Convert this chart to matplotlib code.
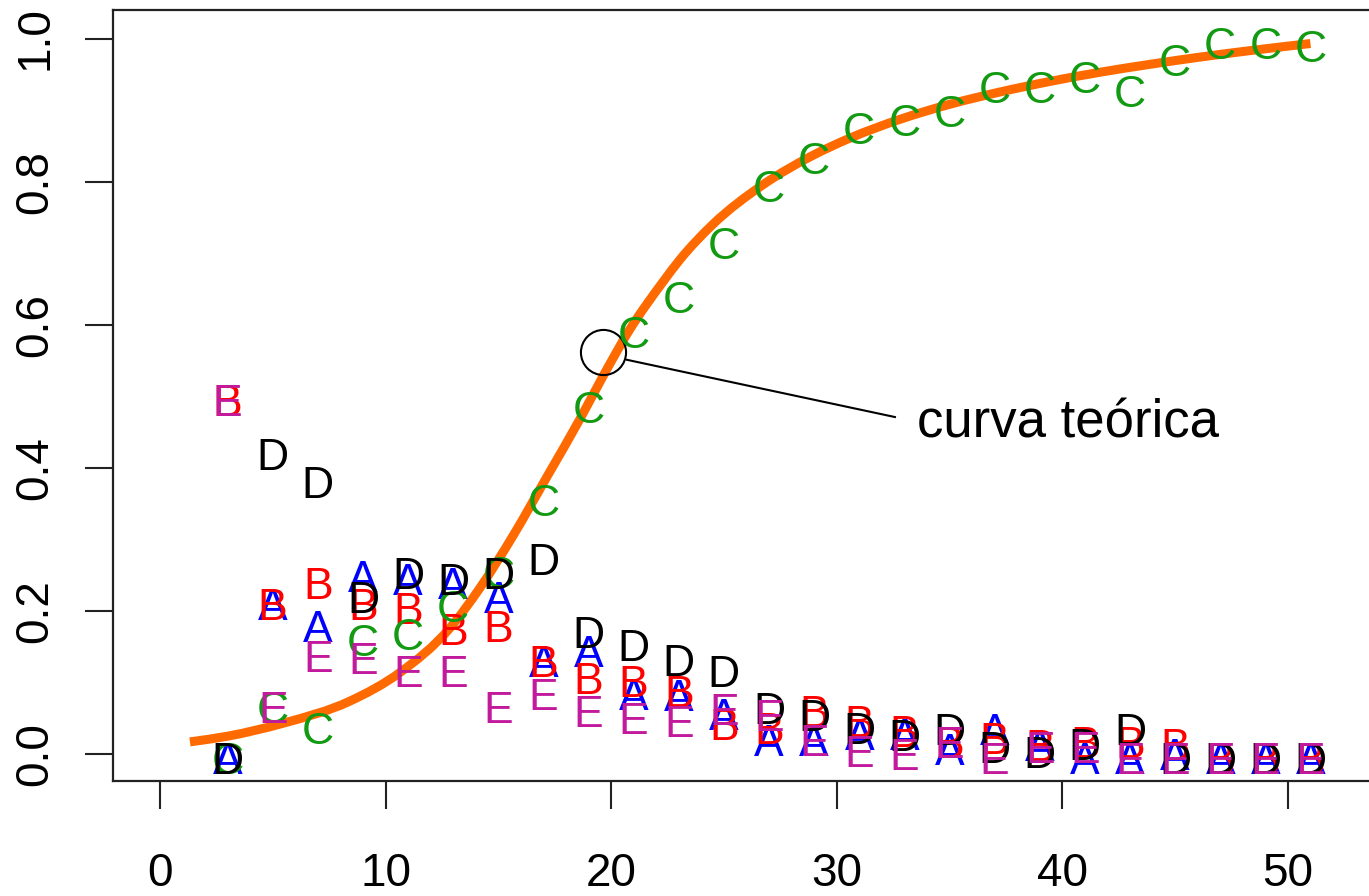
import matplotlib.pyplot as plt
import matplotlib.transforms as mtransforms
from matplotlib.path import Path
from matplotlib.patches import PathPatch
import numpy as np

plt.rcParams['font.family'] = ['Liberation Sans', 'DejaVu Sans']

# proportions per class, sampled every 2 units
x = np.arange(3, 52, 2)
prop_a = [0.0, 0.215, 0.185, 0.255, 0.25, 0.245, 0.225, 0.135, 0.15, 0.09, 0.088, 0.062, 0.025,
          0.025, 0.033, 0.033, 0.012, 0.04, 0.018, 0.0, 0.0, 0.005, 0.0, 0.0, 0.0]
prop_b = [0.5, 0.215, 0.245, 0.215, 0.21, 0.18, 0.185, 0.135, 0.112, 0.108, 0.094, 0.048, 0.042,
          0.066, 0.052, 0.038, 0.022, 0.028, 0.018, 0.022, 0.022, 0.02, 0.0, 0.0, 0.0]
prop_c = [0.0, 0.072, 0.042, 0.165, 0.173, 0.212, 0.26, 0.36, 0.49, 0.595, 0.645, 0.72, 0.80,
          0.838, 0.88, 0.892, 0.904, 0.938, 0.938, 0.952, 0.932, 0.975, 1.0, 1.0, 0.995]
prop_d = [0.0, 0.425, 0.386, 0.225, 0.258, 0.25, 0.258, 0.278, 0.176, 0.158, 0.137, 0.121, 0.07,
          0.06, 0.042, 0.032, 0.04, 0.016, 0.008, 0.02, 0.04, 0.0, 0.0, 0.0, 0.0]
prop_e = [0.5, 0.072, 0.142, 0.14, 0.122, 0.122, 0.072, 0.09, 0.066, 0.056, 0.052, 0.068, 0.06,
          0.025, 0.01, 0.005, 0.022, 0.0, 0.015, 0.015, 0.0, 0.0, 0.0, 0.0, 0.0]

labels = ['A', 'B', 'C', 'D', 'E']
colors = ['#0000ff', '#ff0000', '#139a13', '#000000', '#c21a9c']

# theoretical curve
curve_x = [1.33, 3.0, 5.45, 8.42, 10.64, 12.85, 14.18, 15.65, 17.2, 18.65, 19.64, 20.8, 22.3,
           23.05, 24.5, 26.7, 28.9, 30.6, 32.8, 35.0, 37.2, 39.45, 41.7, 43.9, 46.1, 48.3, 51.0]
curve_y = [0.017, 0.025, 0.043, 0.074, 0.114, 0.176, 0.232, 0.305, 0.390, 0.470, 0.528, 0.592,
           0.660, 0.691, 0.740, 0.795, 0.836, 0.861, 0.887, 0.908, 0.925, 0.940, 0.953, 0.964,
           0.974, 0.983, 0.993]

note_xy = (19.64, 0.562)
note_line_x = [20.70, 32.58]
note_line_y = [0.551, 0.471]
note_text_xy = (33.55, 0.443)


def smooth_path(px, py):
    # cubic hermite segments through the points, slopes from neighbours
    px = np.asarray(px, float)
    py = np.asarray(py, float)
    m = np.gradient(py, px)
    verts = [(px[0], py[0])]
    codes = [Path.MOVETO]
    for i in range(len(px) - 1):
        h = (px[i + 1] - px[i]) / 3
        verts += [(px[i] + h, py[i] + m[i] * h),
                  (px[i + 1] - h, py[i + 1] - m[i + 1] * h),
                  (px[i + 1], py[i + 1])]
        codes += [Path.CURVE4] * 3
    return Path(verts, codes)


fig = plt.figure(figsize=(13.69, 8.96), dpi=100)
ax = fig.add_axes([0.0825, 0.1283, 0.940, 0.8605])

# letters sit a touch below their value, as in R's text()
shift = mtransforms.offset_copy(ax.transData, fig=fig, x=0, y=-4, units='dots')
for lab, col, vals in zip(labels, colors, [prop_a, prop_b, prop_c, prop_d, prop_e]):
    for xi, yi in zip(x, vals):
        ax.text(xi, yi, lab, color=col, fontsize=32, ha='center', va='center_baseline',
                transform=shift)

ax.add_patch(PathPatch(smooth_path(curve_x, curve_y), fill=False, edgecolor='#ff6a00',
                       lw=6.5, capstyle='butt', joinstyle='round'))

ax.plot(*note_xy, marker='o', ms=32.5, mfc='none', mec='black', mew=1.5)
ax.plot(note_line_x, note_line_y, color='black', lw=1.5)
ax.text(*note_text_xy, 'curva teórica', fontsize=38, ha='left', va='baseline')

ax.set_xlim(-2.083, 54.96)
ax.set_ylim(-0.0377, 1.0398)
ax.set_xticks([0, 10, 20, 30, 40, 50])
ax.set_yticks([0.0, 0.2, 0.4, 0.6, 0.8, 1.0])
ax.set_yticklabels(['0.0', '0.2', '0.4', '0.6', '0.8', '1.0'], rotation=90, va='center')
ax.tick_params(axis='x', length=20, width=1.5, pad=31, labelsize=33, color='#222222')
ax.tick_params(axis='y', length=20, width=1.5, pad=20, labelsize=33, color='#222222')
ax.spines['right'].set_visible(False)
for s in ['left', 'top', 'bottom']:
    ax.spines[s].set_linewidth(1.6)
    ax.spines[s].set_color('#222222')

fig.savefig('out.png', dpi=100)
